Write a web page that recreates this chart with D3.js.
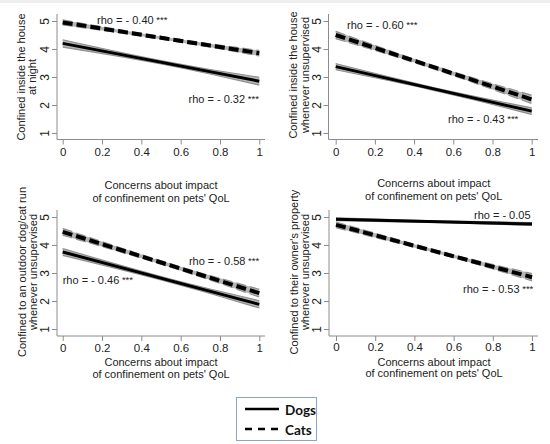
<!DOCTYPE html>
<html>
<head>
<meta charset="utf-8">
<script src="https://cdn.jsdelivr.net/npm/d3@7"></script>
<style>
  body { margin: 0; background: #fff; }
  svg { display: block; font-family: "Liberation Sans", Arial, sans-serif; }
</style>
</head>
<body>
<svg width="550" height="444"></svg>
<script>
// values
var xTicks = [0, 0.2, 0.4, 0.6, 0.8, 1];
var yTicks = [1, 2, 3, 4, 5];
var yTitles = [
    ["Confined inside the house", "at night"],
    ["Confined inside the house", "whenever unsupervised"],
    ["Confined to an outdoor dog/cat run", "whenever unsupervised"],
    ["Confined to their owner's property", "whenever unsupervised"]
];
var xTitle = ["Concerns about impact", "of confinement on pets' QoL"];

var fitX = [0, 1];
var dogsFit = [[4.20, 2.85], [3.37, 1.78], [3.75, 1.88], [4.92, 4.75]];
var catsFit = [[4.95, 3.85], [4.50, 2.20], [4.47, 2.28], [4.72, 2.85]];

// half width of the 95% band
var ciX = [0, 0.25, 0.5, 0.75, 1];
var dogsCI = [[0.13, 0.08, 0.06, 0.08, 0.14], [0.11, 0.07, 0.05, 0.07, 0.12], [0.12, 0.08, 0.06, 0.08, 0.13], [0.05, 0.04, 0.03, 0.04, 0.05]];
var catsCI = [[0.09, 0.06, 0.05, 0.06, 0.10], [0.13, 0.08, 0.06, 0.09, 0.15], [0.12, 0.08, 0.06, 0.08, 0.14], [0.10, 0.07, 0.05, 0.07, 0.13]];

var dogsRho = ["rho = - 0.32", "rho = - 0.43", "rho = - 0.46", "rho = - 0.05"];
var dogsStars = ["***", "***", "***", ""];
var catsRho = ["rho = - 0.40", "rho = - 0.60", "rho = - 0.58", "rho = - 0.53"];
var catsStars = ["***", "***", "***", "***"];

var legendLabels = ["Dogs", "Cats"];

// panel geometry (each panel was a separate graph, so spacing differs a bit)
var layout = [
    {x0: 62.7, x1: 259.3, y5: 21, y1: 133, axX: 57, axY: 139.5, axTop: 14, axRight: 265,
     tickY: 152, titleY: [185, 198], ytX: [21, 32], ytY: 77,
     dogsLab: [0.64, 2.22], catsLab: [0.175, 5.02]},
    {x0: 335.7, x1: 531.7, y5: 21, y1: 133, axX: 328.5, axY: 139.5, axTop: 14, axRight: 538,
     tickY: 152, titleY: [183, 196], ytX: [293, 305], ytY: 75,
     dogsLab: [0.573, 1.48], catsLab: [0.058, 4.84]},
    {x0: 62.7, x1: 259.3, y5: 217, y1: 329, axX: 57, axY: 336, axTop: 210, axRight: 265,
     tickY: 348, titleY: [362, 374], ytX: [22, 33], ytY: 272,
     dogsLab: [0.0, 2.73], catsLab: [0.642, 3.44]},
    {x0: 336, x1: 532, y5: 217, y1: 329, axX: 329, axY: 336, axTop: 210, axRight: 538,
     tickY: 347, titleY: [362, 373], ytX: [294, 305], ytY: 272,
     dogsLab: [0.704, 5.08], catsLab: [0.648, 2.41]}
];

var svg = d3.select("svg");
var axisCol = "#8c8c8c";
var textCol = "#222";

// thin grey strip along the top of the original image
svg.append("rect").attr("x", 0).attr("y", 0).attr("width", 550).attr("height", 3).attr("fill", "#eeeeee");

layout.forEach(function (p, i) {
    var x = d3.scaleLinear().domain([0, 1]).range([p.x0, p.x1]);
    var y = d3.scaleLinear().domain([1, 5]).range([p.y1, p.y5]);
    var g = svg.append("g");

    // axis lines spanning the plot region
    g.append("line").attr("x1", p.axX).attr("x2", p.axX).attr("y1", p.axTop).attr("y2", p.axY)
        .attr("stroke", axisCol).attr("stroke-width", 1);
    g.append("line").attr("x1", p.axX).attr("x2", p.axRight).attr("y1", p.axY).attr("y2", p.axY)
        .attr("stroke", axisCol).attr("stroke-width", 1);

    var yAxis = d3.axisLeft(y).tickValues(yTicks).tickFormat(d3.format("d")).tickSize(5).tickPadding(0);
    var ya = g.append("g").attr("transform", "translate(" + p.axX + ",0)").call(yAxis);
    ya.select(".domain").remove();
    ya.selectAll("line").attr("stroke", axisCol);
    ya.selectAll("text")
        .attr("transform", "rotate(-90)")
        .attr("x", 0).attr("y", -12).attr("dy", "0.35em")
        .attr("text-anchor", "middle")
        .attr("fill", textCol).attr("font-size", 12);

    var xAxis = d3.axisBottom(x).tickValues(xTicks).tickFormat(function (d) { return d === 0 || d === 1 ? d : d3.format(".1f")(d); })
        .tickSize(5).tickPadding(0);
    var xa = g.append("g").attr("transform", "translate(0," + p.axY + ")").call(xAxis);
    xa.select(".domain").remove();
    xa.selectAll("line").attr("stroke", axisCol);
    xa.selectAll("text").attr("y", p.tickY - p.axY).attr("dy", "0.35em")
        .attr("fill", textCol).attr("font-size", 11.5);

    // axis titles
    xTitle.forEach(function (t, k) {
        g.append("text").attr("x", (p.x0 + p.x1) / 2).attr("y", p.titleY[k]).attr("dy", "0.35em")
            .attr("text-anchor", "middle").attr("font-size", 11).attr("fill", textCol).text(t);
    });
    yTitles[i].forEach(function (t, k) {
        g.append("text").attr("transform", "translate(" + p.ytX[k] + "," + p.ytY + ") rotate(-90)")
            .attr("dy", "0.35em").attr("text-anchor", "middle")
            .attr("font-size", 11).attr("fill", textCol).text(t);
    });

    // confidence bands and fitted lines
    var series = [
        {fit: dogsFit[i], ci: dogsCI[i], dash: null, w: 3},
        {fit: catsFit[i], ci: catsCI[i], dash: "10,4", w: 4}
    ];
    series.forEach(function (s) {
        var fy = d3.scaleLinear().domain(fitX).range(s.fit);
        var band = ciX.map(function (cx, k) { return {x: cx, lo: fy(cx) - s.ci[k], hi: fy(cx) + s.ci[k]}; });
        g.append("path").datum(band)
            .attr("d", d3.area().curve(d3.curveNatural).x(function (d) { return x(d.x); })
                .y0(function (d) { return y(d.lo); }).y1(function (d) { return y(d.hi); }))
            .attr("fill", "#b4b4b4");
        ["lo", "hi"].forEach(function (key) {
            g.append("path").datum(band)
                .attr("d", d3.line().curve(d3.curveNatural).x(function (d) { return x(d.x); })
                    .y(function (d) { return y(d[key]); }))
                .attr("fill", "none").attr("stroke", "#909090").attr("stroke-width", 1.2)
                .attr("stroke-dasharray", s.dash);
        });
    });
    series.forEach(function (s) {
        var pts = fitX.map(function (fx, k) { return [x(fx), y(s.fit[k])]; });
        g.append("path").attr("d", d3.line()(pts))
            .attr("fill", "none").attr("stroke", "#000").attr("stroke-width", s.w)
            .attr("stroke-dasharray", s.dash);
    });

    // rho labels
    [[dogsRho[i], dogsStars[i], p.dogsLab], [catsRho[i], catsStars[i], p.catsLab]].forEach(function (r) {
        var t = g.append("text").attr("x", x(r[2][0])).attr("y", y(r[2][1])).attr("dy", "0.35em")
            .attr("font-size", 11).attr("fill", textCol);
        t.append("tspan").text(r[0]);
        if (r[1]) t.append("tspan").attr("font-size", 9.5).attr("dy", -1).text(" " + r[1]);
    });
});

// legend
var lg = svg.append("g");
lg.append("rect").attr("x", 236.5).attr("y", 397.5).attr("width", 80).attr("height", 43)
    .attr("fill", "#fff").attr("stroke", "#8fa3c9").attr("stroke-width", 1);
legendLabels.forEach(function (name, k) {
    var ly = 409 + k * 20;
    lg.append("line").attr("x1", 245).attr("x2", 279).attr("y1", ly).attr("y2", ly)
        .attr("stroke", "#000").attr("stroke-width", 2.5)
        .attr("stroke-dasharray", k === 1 ? "7,6" : null);
    lg.append("text").attr("x", 285).attr("y", ly + 1).attr("dy", "0.35em")
        .attr("font-family", "Lato, 'Open Sans', sans-serif").attr("font-weight", "bold")
        .attr("font-size", 13.5).attr("fill", "#111").text(name);
});
</script>
</body>
</html>
